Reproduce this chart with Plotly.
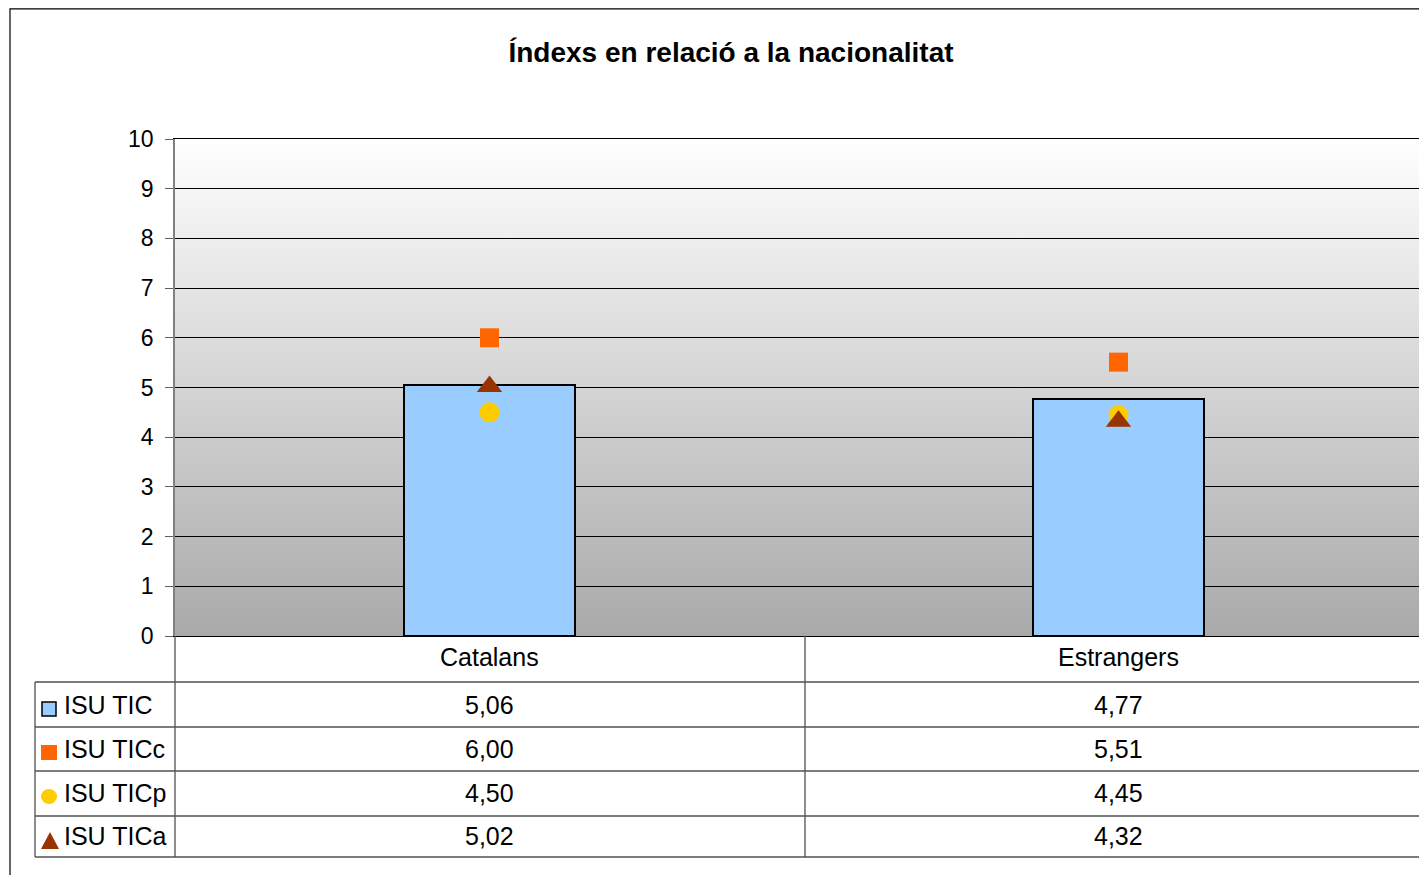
import base64

import plotly.graph_objects as go

# figure size; the page body adds an 8px offset, so screen pixels are mapped back by OFF
W, H = 1435, 875
OFF = 8

categories = ["Catalans", "Estrangers"]
series_names = ["ISU TIC", "ISU TICc", "ISU TICp", "ISU TICa"]
isu_tic = [5.06, 4.77]
isu_ticc = [6.00, 5.51]
isu_ticp = [4.50, 4.45]
isu_tica = [5.02, 4.32]
y_ticks = [0, 1, 2, 3, 4, 5, 6, 7, 8, 9, 10]

BAR_COLOR = "#99CCFF"
SQUARE_COLOR = "#FF6600"
CIRCLE_COLOR = "#FFCC00"
TRIANGLE_COLOR = "#993300"
FONT = "Liberation Sans, Arial, sans-serif"
TABLE_LINE = "#505050"


def fx(px):
    return (px - OFF) / W


def fy(py):
    return 1 - (py - OFF) / H


def fmt(v):
    return f"{v:.2f}".replace(".", ",")


# vertical grey gradient for the plot area (Excel style)
svg = (
    '<svg xmlns="http://www.w3.org/2000/svg" width="10" height="100" viewBox="0 0 10 100" '
    'preserveAspectRatio="none"><defs><linearGradient id="g" x1="0" y1="0" x2="0" y2="1">'
    '<stop offset="0" stop-color="#FFFFFF"/><stop offset="1" stop-color="#A9A9A9"/>'
    '</linearGradient></defs><rect width="10" height="100" fill="url(#g)"/></svg>'
)
bg_src = "data:image/svg+xml;base64," + base64.b64encode(svg.encode()).decode()

fig = go.Figure()
fig.add_trace(go.Bar(
    x=categories, y=isu_tic, name=series_names[0], width=0.272,
    marker=dict(color=BAR_COLOR, line=dict(color="black", width=2)),
))
fig.add_trace(go.Scatter(
    x=categories, y=isu_ticc, mode="markers", name=series_names[1],
    marker=dict(symbol="square", size=19, color=SQUARE_COLOR),
))
fig.add_trace(go.Scatter(
    x=categories, y=isu_ticp, mode="markers", name=series_names[2],
    marker=dict(symbol="circle", size=20, color=CIRCLE_COLOR),
))
fig.add_trace(go.Scatter(
    x=categories, y=isu_tica, mode="markers", name=series_names[3],
    marker=dict(symbol="triangle-up", size=22, color=TRIANGLE_COLOR),
))

shapes = []
annotations = []

# outer chart border (continues past the right/bottom edge of the view)
shapes.append(dict(type="rect", xref="paper", yref="paper", x0=fx(10), x1=fx(1480),
                   y0=fy(920), y1=fy(8.8), line=dict(color="black", width=1.2)))

# data table grid
for py in [682, 727, 771, 816, 857]:
    shapes.append(dict(type="line", xref="paper", yref="paper", x0=fx(35), x1=1,
                       y0=fy(py), y1=fy(py), line=dict(color=TABLE_LINE, width=1.3)))
for px, top in [(175, 636), (805, 636), (35, 682)]:
    shapes.append(dict(type="line", xref="paper", yref="paper", x0=fx(px), x1=fx(px),
                       y0=fy(top), y1=fy(857), line=dict(color=TABLE_LINE, width=1.3)))

# category names in the table header row
for cat in categories:
    annotations.append(dict(x=cat, xref="x", y=fy(657), yref="paper", text=cat, showarrow=False,
                            font=dict(family=FONT, size=25, color="black"), yanchor="middle"))

# table values
rows_y = [705, 749, 793, 836]
for name, values, py in zip(series_names, [isu_tic, isu_ticc, isu_ticp, isu_tica], rows_y):
    annotations.append(dict(x=fx(62), xref="paper", y=fy(py), yref="paper", text=name, showarrow=False,
                            xanchor="left", yanchor="middle",
                            font=dict(family=FONT, size=25, color="black")))
    for cat, v in zip(categories, values):
        annotations.append(dict(x=cat, xref="x", y=fy(py), yref="paper", text=fmt(v), showarrow=False,
                                yanchor="middle", font=dict(family=FONT, size=25, color="black")))

# legend keys in the table
shapes.append(dict(type="rect", xref="paper", yref="paper", x0=fx(42), x1=fx(56), y0=fy(716), y1=fy(702),
                   fillcolor=BAR_COLOR, line=dict(color="black", width=1.5)))
shapes.append(dict(type="rect", xref="paper", yref="paper", x0=fx(41), x1=fx(57), y0=fy(760), y1=fy(745),
                   fillcolor=SQUARE_COLOR, line=dict(width=0)))
shapes.append(dict(type="circle", xref="paper", yref="paper", x0=fx(41), x1=fx(57), y0=fy(804), y1=fy(789),
                   fillcolor=CIRCLE_COLOR, line=dict(width=0)))
tri = f"M {fx(41)},{fy(849)} L {fx(59)},{fy(849)} L {fx(50)},{fy(832)} Z"
shapes.append(dict(type="path", xref="paper", yref="paper", path=tri,
                   fillcolor=TRIANGLE_COLOR, line=dict(width=0)))

fig.update_layout(
    width=W, height=H,
    margin=dict(l=0, r=0, t=0, b=0, autoexpand=False),
    paper_bgcolor="white", plot_bgcolor="white",
    showlegend=False,
    title=dict(text="<b>Índexs en relació a la nacionalitat</b>", x=fx(731), xanchor="center",
               y=fy(52), yanchor="middle", automargin=False,
               font=dict(family=FONT, size=28, color="black")),
    font=dict(family=FONT, color="black"),
    bargap=0,
    xaxis=dict(domain=[fx(175), fx(1433)], range=[-0.5, 1.5], type="category", showgrid=False,
               showticklabels=False, ticks="", showline=True, mirror=True, automargin=False,
               linecolor="black", linewidth=1.2, zeroline=False, fixedrange=True),
    yaxis=dict(domain=[fy(636), fy(139)], range=[0, 10], tickvals=y_ticks, showgrid=True,
               gridcolor="black", gridwidth=1.2, zeroline=False, showline=True, automargin=False,
               linecolor="#808080", linewidth=1.5, ticks="outside", ticklen=8, tickcolor="#606060",
               tickwidth=1.2, ticklabelstandoff=7, tickfont=dict(family=FONT, size=23, color="black"),
               fixedrange=True),
    images=[dict(source=bg_src, xref="paper", yref="paper", x=fx(175), y=fy(139),
                 sizex=fx(1433) - fx(175), sizey=fy(139) - fy(636), xanchor="left", yanchor="top",
                 sizing="stretch", layer="below")],
    shapes=shapes,
    annotations=annotations,
)

fig.write_html("out.html")
